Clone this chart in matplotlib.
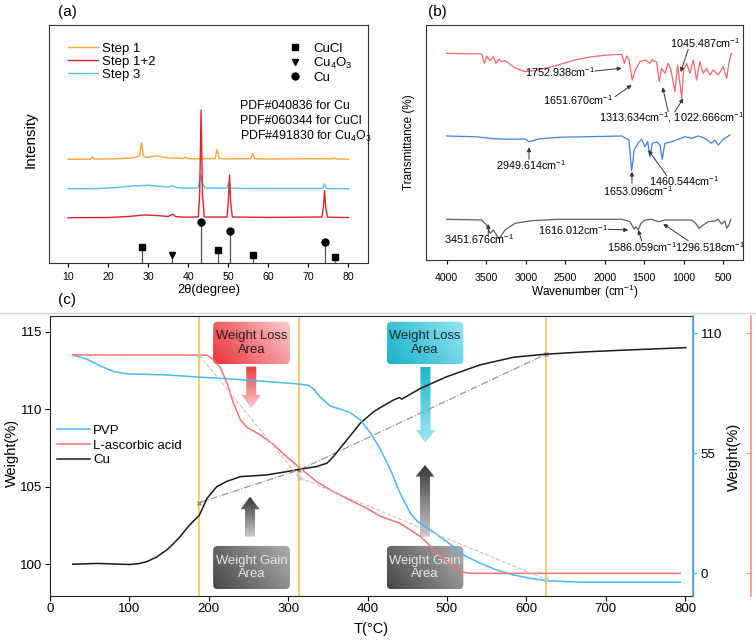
import numpy as np
import matplotlib
matplotlib.use('Agg')
import matplotlib.pyplot as plt
from matplotlib.patches import FancyBboxPatch, Polygon
from matplotlib.lines import Line2D

plt.rcParams['font.family'] = ['Liberation Sans', 'DejaVu Sans']
plt.rcParams['mathtext.fontset'] = 'custom'
plt.rcParams['mathtext.rm'] = 'Liberation Sans'
plt.rcParams['mathtext.it'] = 'Liberation Sans:italic'

# ---------------- (a) XRD ----------------
s1_x = [10, 15.5, 16.0, 16.5, 21.5, 26, 27.8, 28.3, 28.8, 29.5, 31, 32, 33, 35, 38.8, 39.3, 39.8,
        41, 46.7, 47.2, 47.7, 49, 55.6, 56.1, 56.6, 60, 69, 76.0, 76.5, 77.0, 80]
s1_y = [103.7, 103.8, 106.2, 103.9, 104.2, 105, 107, 120.3, 107, 105.5, 106.5, 107.2, 106.6, 105,
        104.5, 106, 104.5, 104.2, 104.5, 113.5, 104.5, 104.1, 104.4, 109.5, 104.4, 104.0, 104.2,
        104.2, 105.3, 104.1, 103.8]
s3_x = [10, 18, 22, 26, 30, 33, 35, 36, 37, 39, 42.4, 42.8, 43.1, 43.5, 44.2, 49.6, 50.1, 50.6,
        55, 73.5, 74.0, 74.5, 80]
s3_y = [74.3, 74.5, 75.5, 77, 77.7, 76.8, 75.8, 77.3, 75.6, 74.8, 75, 82, 88, 80, 75, 74.8, 80.7,
        74.8, 74.5, 74.5, 79, 74.5, 74.3]
s12_x = [10, 20, 25, 29, 32, 35, 35.8, 36.2, 36.8, 39, 42.5, 42.85, 43.2, 43.55, 44, 49.7, 50.0,
         50.3, 50.6, 51, 60, 73.4, 73.75, 74.05, 74.35, 74.8, 80]
s12_y = [45.3, 45.5, 46.5, 48, 47.5, 46.5, 48.3, 48.7, 46.5, 45.8, 46, 70, 153, 68, 46, 46, 62, 88,
         60, 46, 45.6, 46, 56, 72.3, 55, 45.8, 45.5]

cu_pos = [43.3, 50.4, 74.1]
cu_int = [41.3, 32, 21.3]
cucl_pos = [28.5, 47.3, 56.2, 76.6]
cucl_int = [16.3, 13, 8, 5.7]
cu4o3_pos = [36.0]
cu4o3_int = [8]
pdf_notes = ['PDF#040836 for Cu', 'PDF#060344 for CuCl', 'PDF#491830 for Cu$_4$O$_3$']

# ---------------- (b) FTIR ----------------
red_wn = [4000, 3557, 3524, 3494, 3452, 3410, 3376, 3338, 3304, 3262, 3220, 3136, 3009, 2959,
          2883, 2757, 2588, 2377, 2166, 1956, 1786, 1753, 1723, 1694, 1652, 1609, 1555, 1491,
          1428, 1399, 1387, 1344, 1311, 1281, 1239, 1197, 1163, 1112, 1078, 1049, 1027, 1002,
          964, 922, 880, 838, 796, 754, 712, 670, 627, 564, 501, 458, 429, 404, 395]
red_t = [206.7, 206, 196.7, 204, 199.3, 203.3, 196.7, 200.7, 198.3, 199.3, 197, 192, 188.3, 189,
         189.3, 191.7, 195, 200, 203.3, 205, 205.7, 196.7, 204, 201, 180, 190.7, 198.3, 200,
         196.7, 200.7, 199, 198.3, 178.3, 191.7, 186.7, 196.7, 190, 168.3, 195, 176.7, 161.7,
         190, 196.7, 186.7, 200, 180, 198.3, 186.7, 191.7, 185, 190, 185, 193.3, 181.7, 196.7,
         206, 206.7]
blue_wn = [4000, 3640, 3430, 3220, 3009, 2959, 2905, 2841, 2588, 1786, 1694, 1660, 1627, 1576,
           1533, 1491, 1457, 1428, 1399, 1344, 1302, 1273, 1239, 1154, 1070, 985, 901, 817, 733,
           648, 606, 564, 501, 416]
blue_t = [124, 123.3, 121.5, 120.7, 121, 118.3, 119.3, 121, 122.7, 124, 120, 89.3, 110, 117.3,
          120.7, 113.3, 118.3, 103.3, 116.7, 118.3, 115, 100.7, 116.7, 118.3, 120.7, 123.3,
          121.7, 124, 121.7, 116.7, 120, 115, 120.7, 125]
gray_wn = [4000, 3557, 3494, 3452, 3410, 3338, 3262, 3136, 2925, 2588, 1786, 1681, 1627, 1609,
           1576, 1542, 1491, 1407, 1323, 1239, 901, 850, 808, 754, 691, 606, 564, 522, 480, 458,
           429, 404]
gray_t = [40.7, 40, 35, 26.7, 30, 21, 30, 36.7, 39.3, 40.7, 40.7, 38.3, 30.7, 33.3, 30, 36.7, 40,
          40.7, 38.3, 40, 40, 36.7, 31.7, 35, 38.3, 39, 40.7, 36, 39, 31.7, 35, 40.7]

peak_labels = ['1752.938cm$^{-1}$', '1651.670cm$^{-1}$', '1045.487cm$^{-1}$',
               '1313.634cm$^{-1}$, 1022.666cm$^{-1}$', '2949.614cm$^{-1}$', '1653.096cm$^{-1}$',
               '1460.544cm$^{-1}$', '3451.676cm$^{-1}$', '1616.012cm$^{-1}$',
               '1586.059cm$^{-1}$', '1296.518cm$^{-1}$']
label_pos = [(2567, 188.3), (2335, 160), (733, 216.7), (1154, 142.7), (2937, 95), (1584, 68.5),
             (994, 78.8), (3588, 20.7), (2398, 30), (1533, 13.3), (669, 13.3)]
arrow_tail = [(2124, 189), (1871, 163.3), (944, 210.7), (1197, 148.3), (1112, 148.3),
              (2959, 100.7), (1656, 76.7), (1217, 84.5), (3474, 25), (1956, 30.7), (1533, 19.3),
              (944, 19.3)]
arrow_tip = [(1786, 191.7), (1660, 175), (1040, 188), (1268, 172.7), (1007, 161.7),
             (2959, 112.7), (1656, 88.3), (1450, 110), (3474, 36), (1703, 30), (1576, 30),
             (1260, 36)]

# ---------------- (c) TGA ----------------
cu_T = [28.6, 60, 100, 112, 122, 134, 147, 155, 164, 172, 181, 188, 198, 210, 223, 240, 273, 298,
        315, 336, 349, 357, 374, 391, 408, 416, 433, 440, 443, 450, 467, 500, 542, 584, 625, 668,
        710, 801]
cu_w = [100.0, 100.05, 99.98, 100.04, 100.17, 100.45, 100.92, 101.3, 101.78, 102.3, 102.8,
        103.15, 104.26, 105.0, 105.35, 105.65, 105.76, 105.97, 106.13, 106.3, 106.52, 106.94,
        108.02, 109.1, 109.85, 110.1, 110.6, 110.75, 110.65, 110.85, 111.35, 112.1, 112.86,
        113.35, 113.55, 113.68, 113.78, 113.97]
pvp_T = [28.6, 46, 63, 80, 97, 147, 189, 231, 273, 315, 326, 332, 340, 353, 366, 378, 391, 404,
         416, 429, 441, 454, 463, 479, 500, 521, 542, 563, 584, 605, 626, 668, 794]
pvp_w = [100.1, 98.2, 95.1, 92.5, 91.4, 90.96, 89.9, 89.0, 87.9, 86.7, 86.1, 84.5, 81.0, 76.7,
         75.2, 73.7, 70.3, 64.2, 57.0, 47.4, 36.7, 27.5, 23.7, 19.9, 14.5, 8.4, 4.6, 1.5, -0.8,
         -2.3, -3.4, -4.1, -4.1]
aa_T = [28.6, 198, 206, 215, 223, 231, 240, 248, 265, 282, 298, 315, 336, 357, 378, 399, 416,
        441, 467, 484, 500, 517, 530, 794]
aa_w = [100.1, 100, 97.8, 94.0, 87.2, 78.0, 70.3, 67.0, 63.4, 58.9, 53.5, 48.2, 42.0, 37.4, 33.6,
        29.8, 26.2, 22.9, 16.8, 10.7, 5.3, 0.7, 0, 0]
stage_T = [188, 314, 625]
loss_w = [100, 43.9, -2.8]
gain_w = [103.97, 106.08, 113.55]

W, H = 756, 642


def rect(x0, y0, x1, y1):
    # pixel box (origin top-left) -> figure fraction
    return [x0 / W, 1 - y1 / H, (x1 - x0) / W, (y1 - y0) / H]


def gradient(ax, patch, extent, c0, c1, mode):
    ax.add_patch(patch)
    n = 200
    u = np.linspace(0, 1, n)
    if mode == 'v':      # c0 on top
        t = np.tile(u[:, None], (1, n))
    else:                # diagonal, c1 at top right
        t = np.clip(0.7 * u[None, :] + 0.3 * (1 - u[:, None]), 0, 1)
    img = (1 - t)[..., None] * np.array(c0) / 255 + t[..., None] * np.array(c1) / 255
    im = ax.imshow(img, extent=extent, origin='upper', aspect='auto',
                   interpolation='bilinear', zorder=2)
    im.set_clip_path(patch)


def arrow(ax, xc, y0, y1, hs, hh, hl, c0, c1):
    sg = np.sign(y1 - y0)
    yb = y1 - sg * hl
    verts = [(xc - hs, y0), (xc - hs, yb), (xc - hh, yb), (xc, y1), (xc + hh, yb),
             (xc + hs, yb), (xc + hs, y0)]
    p = Polygon(verts, closed=True, facecolor='none', edgecolor='none', zorder=2)
    top, bot = (c0, c1) if y0 > y1 else (c1, c0)
    gradient(ax, p, (xc - hh, xc + hh, min(y0, y1), max(y0, y1)), top, bot, 'v')


fig = plt.figure(figsize=(7.56, 6.42), dpi=100)

# ---------- panel (a) ----------
ax_a = fig.add_axes(rect(49, 25, 368, 263))
l1, = ax_a.plot(s1_x, s1_y, color='#f9a63c', lw=1, label='Step 1')
l3, = ax_a.plot(s3_x, s3_y, color='#56bff7', lw=1, label='Step 3')
l2, = ax_a.plot(s12_x, s12_y, color='#d7262b', lw=1, label='Step 1+2')
ax_a.vlines(cu_pos + cucl_pos + cu4o3_pos, 0, cu_int + cucl_int + cu4o3_int,
            color='#555555', lw=0.9)
m1, = ax_a.plot(cucl_pos, cucl_int, 's', color='k', ms=4.2, ls='none', label='CuCl')
m2, = ax_a.plot(cu4o3_pos, cu4o3_int, 'v', color='k', ms=5, ls='none', label='Cu$_4$O$_3$')
m3, = ax_a.plot(cu_pos, cu_int, 'o', color='k', ms=5, ls='none', label='Cu')
ax_a.set_xlim(5.2, 84.9)
ax_a.set_ylim(0, 238)
ax_a.set_xticks(range(10, 81, 10))
ax_a.set_yticks([])
ax_a.tick_params(axis='x', labelsize=7.6, length=3, pad=3.5)
ax_a.set_xlabel('2θ(degree)', fontsize=9.3)
ax_a.xaxis.set_label_coords(0.5, -0.088)
ax_a.set_ylabel('Intensity', fontsize=11)
ax_a.yaxis.set_label_coords(-0.035, 0.52)
leg1 = ax_a.legend(handles=[l1, l2, l3], loc='upper left', bbox_to_anchor=(0.06, 0.925),
                   frameon=False, fontsize=9.5, borderpad=0, borderaxespad=0,
                   handlelength=2.27, handletextpad=0.3, labelspacing=0.05)
ax_a.add_artist(leg1)
ax_a.legend(handles=[m1, m2, m3], loc='upper left', bbox_to_anchor=(0.755, 0.925),
            frameon=False, fontsize=9.5, borderpad=0, borderaxespad=0,
            handlelength=0.8, handletextpad=0.95, labelspacing=0.05)
for i, note in enumerate(pdf_notes):
    ax_a.text(0.5975, (263 - [106, 120.7, 136.7][i]) / 238, note, transform=ax_a.transAxes,
              fontsize=8.9, va='center', ha='left', clip_on=False)
for s in ax_a.spines.values():
    s.set_color('#333333')

# ---------- panel (b) ----------
ax_b = fig.add_axes(rect(425.7, 25, 743.3, 260))
ax_b.plot(red_wn, red_t, color='#f4686a', lw=0.9)
ax_b.plot(blue_wn, blue_t, color='#3d84e6', lw=0.9)
ax_b.plot(gray_wn, gray_t, color='#5f5f5f', lw=0.9)
for lab, (x, y) in zip(peak_labels, label_pos):
    ax_b.text(x, y, lab, fontsize=7.8, ha='center', va='center')
for (xt, yt), (xh, yh) in zip(arrow_tail, arrow_tip):
    ax_b.annotate('', xy=(xh, yh), xytext=(xt, yt),
                  arrowprops=dict(arrowstyle='-|>', color='#333333', lw=0.7,
                                  mutation_scale=6, shrinkA=0, shrinkB=0))
ax_b.set_xlim(4266, 247)
ax_b.set_ylim(0, 235)
ax_b.set_xticks(range(4000, 499, -500))
ax_b.set_yticks([])
ax_b.tick_params(axis='x', labelsize=7.6, length=3, pad=6.5)
ax_b.set_xlabel('Wavenumber (cm$^{-1}$)', fontsize=8.5)
ax_b.xaxis.set_label_coords(0.5, -0.098)
ax_b.set_ylabel('Transmittance (%)', fontsize=8.5)
ax_b.yaxis.set_label_coords(-0.034, 0.5)
for s in ax_b.spines.values():
    s.set_color('#333333')

# ---------- panel (c) ----------
ax_c = fig.add_axes(rect(50, 315.7, 693.3, 596))
ax_p = ax_c.twinx()
ax_r = ax_c.twinx()
ax_r.spines['right'].set_position(('axes', 1.0897))

for t in stage_T:
    ax_c.axvline(t, color='#f8c64e', lw=1.2, zorder=1)

ax_c.plot(stage_T, gain_w, color='#8c8c8c', lw=0.8, ls='-.', marker='x', ms=3, zorder=3)
cu_line, = ax_c.plot(cu_T, cu_w, color='#1a1a1a', lw=1.1, zorder=4)
pvp_line, = ax_p.plot(pvp_T, pvp_w, color='#49b8f6', lw=1.1)
aa_line, = ax_r.plot(aa_T, aa_w, color='#f77373', lw=1.1)
ax_r.plot(stage_T, loss_w, color='#c4c4c4', lw=0.8, ls='--', marker='x', ms=3)

xl, yl = (0, 810.4), (97.95, 116.03)
ax_c.set_xlim(xl)
ax_c.set_ylim(yl)
asp = (1 / 15.51) / (1 / 0.7938)

box_specs = [((205.5, 112.9, 302.3, 115.64), (232, 48, 52), (250, 205, 210), 'Weight Loss\nArea', '#2a1a1a'),
             ((424.2, 112.9, 520.7, 115.64), (22, 178, 198), (150, 228, 244), 'Weight Loss\nArea', '#10282c'),
             ((205.5, 98.39, 302.3, 101.18), (70, 70, 70), (175, 175, 175), 'Weight Gain\nArea', '#e6e6e6'),
             ((424.2, 98.39, 520.7, 101.18), (70, 70, 70), (175, 175, 175), 'Weight Gain\nArea', '#e6e6e6')]
for (x0, y0, x1, y1), c0, c1, txt, tc in box_specs:
    p = FancyBboxPatch((x0, y0), x1 - x0, y1 - y0, boxstyle='round,pad=0,rounding_size=6',
                       mutation_aspect=asp, facecolor='none', edgecolor='none', zorder=2)
    gradient(ax_c, p, (x0, x1, y0, y1), c0, c1, 'd')
    ax_c.text((x0 + x1) / 2, (y0 + y1) / 2, txt, ha='center', va='center', fontsize=9.4,
              color=tc, linespacing=1.15, zorder=3)

hs, hh = 5 / 0.7938, 9.5 / 0.7938
arrow(ax_c, 253.5, 112.74, 110.06, hs, hh, 0.85, (232, 55, 58), (250, 205, 208))
arrow(ax_c, 473.0, 112.74, 107.84, hs, hh, 0.82, (28, 182, 204), (160, 232, 246))
arrow(ax_c, 252.0, 101.78, 104.36, hs, hh, 0.81, (205, 205, 205), (55, 55, 55))
arrow(ax_c, 472.4, 101.78, 106.40, hs, hh, 0.75, (205, 205, 205), (55, 55, 55))

ax_c.set_xlim(xl)
ax_c.set_ylim(yl)
ax_c.set_xticks(range(0, 801, 100))
ax_c.set_yticks([100, 105, 110, 115])
ax_c.tick_params(labelsize=9.5, length=3.3, pad=2.5)
ax_c.tick_params(axis='x', pad=2)
ax_c.set_xlabel('T(°C)', fontsize=10.5)
ax_c.xaxis.set_label_coords(0.5, -0.091)
ax_c.set_ylabel('Weight(%)', fontsize=10.5)
ax_c.yaxis.set_label_coords(-0.0476, 0.51)
for s in ax_c.spines.values():
    s.set_color('#222222')

for ax, col in ((ax_p, '#4ab4f0'), (ax_r, '#f58a8a')):
    ax.set_ylim(-10.4, 118.07)
    ax.set_yticks([0, 55, 110])
    for side in ('left', 'top', 'bottom'):
        ax.spines[side].set_visible(False)
    ax.spines['right'].set_color(col)
    ax.spines['right'].set_linewidth(1.1)
ax_p.tick_params(axis='y', colors='#4ab4f0', labelcolor='k', labelsize=9.5, length=3, pad=2.4)
ax_r.tick_params(axis='y', colors='#f58a8a', direction='in', length=3.5, labelright=False)

ax_c.legend(handles=[pvp_line, aa_line, cu_line], labels=['PVP', 'L-ascorbic acid', 'Cu'],
            loc='upper left', bbox_to_anchor=(0.0104, 0.612), frameon=False, fontsize=9.5,
            borderpad=0, borderaxespad=0, handlelength=2.52, handletextpad=0.25,
            labelspacing=0.2)

fig.text(734 / W, 1 - 456.7 / H, 'Weight(%)', rotation=90, ha='center', va='center',
         fontsize=10.5)

# panel tags and separator line
fig.text(67 / W, 1 - 12 / H, '(a)', fontsize=11, ha='center', va='center')
fig.text(437 / W, 1 - 12 / H, '(b)', fontsize=11, ha='center', va='center')
fig.text(67 / W, 1 - 300 / H, '(c)', fontsize=11, ha='center', va='center')
fig.add_artist(Line2D([0, 1], [1 - 312.7 / H] * 2, transform=fig.transFigure,
                      color='#d6d6d6', lw=1))

fig.savefig('out.png', dpi=100)
